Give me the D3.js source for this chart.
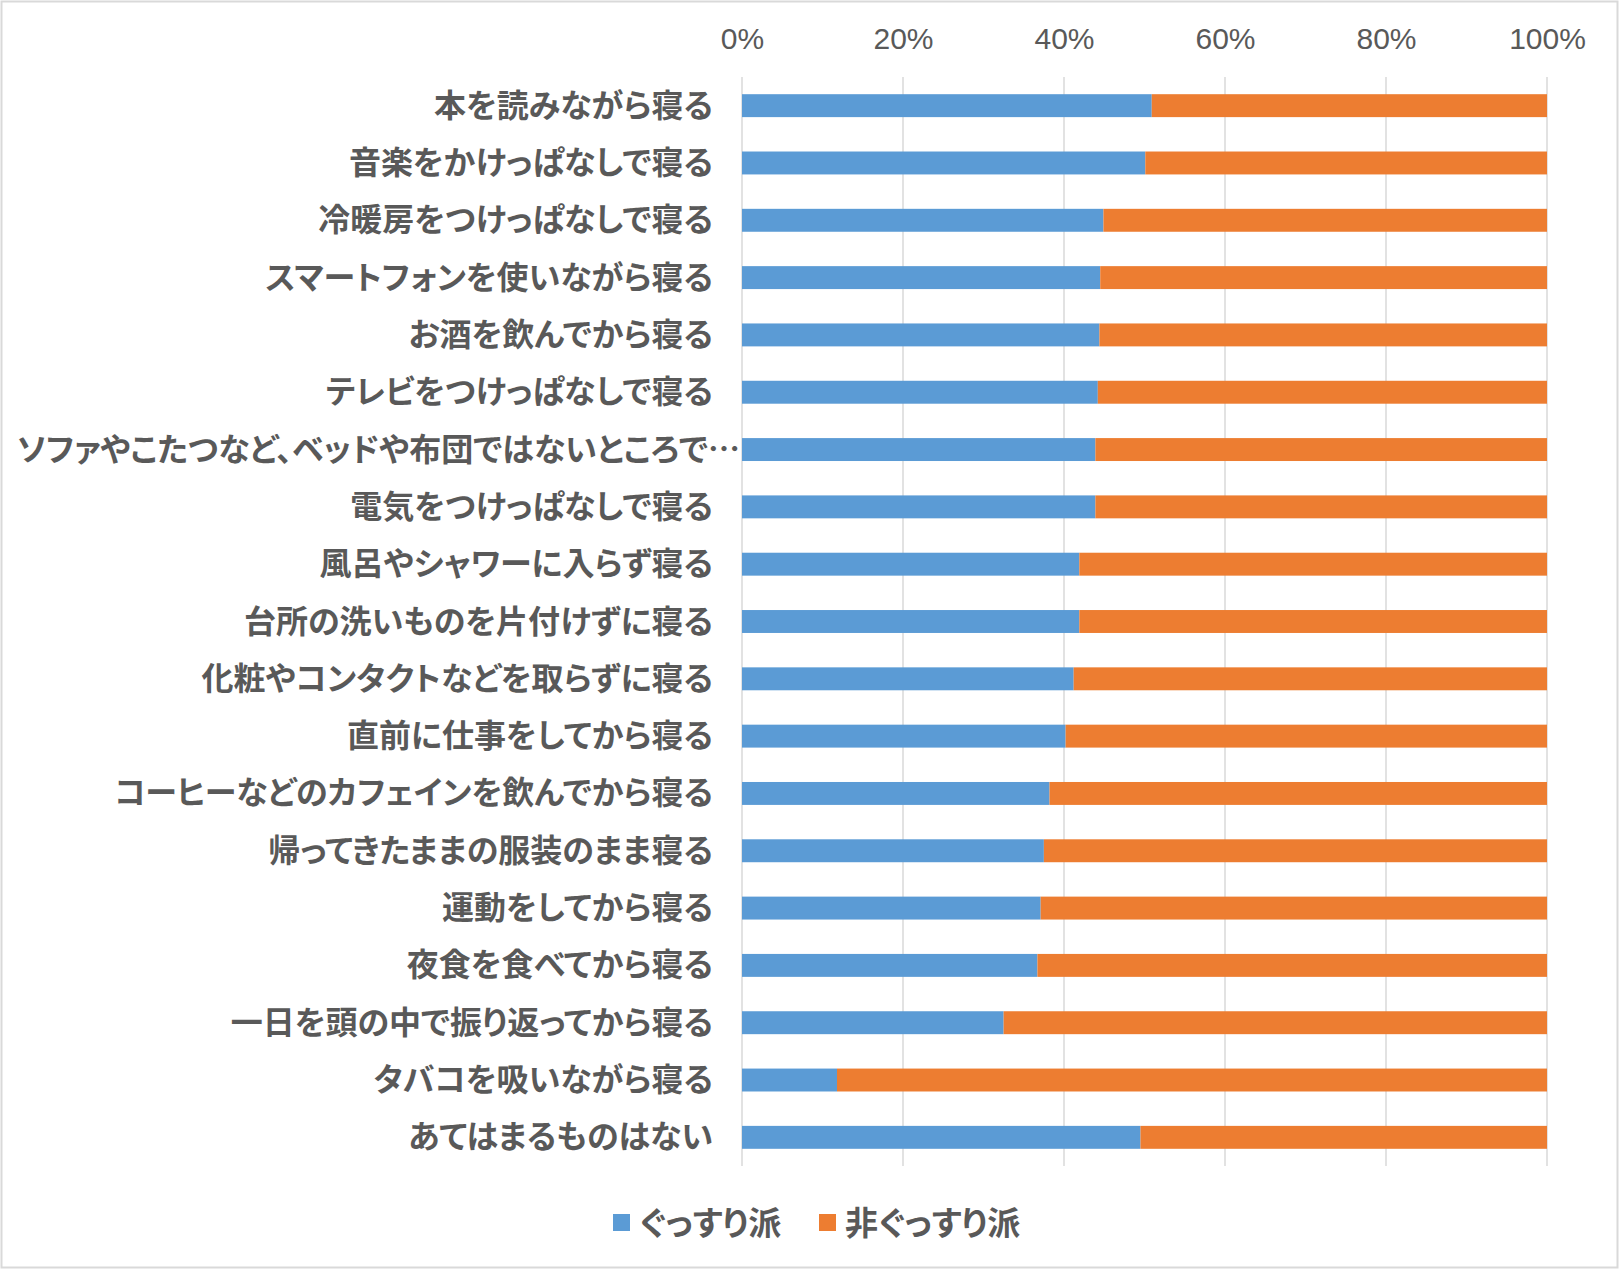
<!DOCTYPE html>
<html><head><meta charset="utf-8">
<script src="https://cdn.jsdelivr.net/npm/d3@7"></script>
<style>
html,body{margin:0;padding:0;background:#fff;}
svg{display:block;}
.cat{font-family:"Noto Sans CJK JP",sans-serif;font-weight:700;font-size:32px;fill:#595959;font-feature-settings:"palt";}
.tick text{font-family:"Liberation Sans",Arial,sans-serif;font-size:30px;fill:#595959;}
.leg{font-family:"Noto Sans CJK JP",sans-serif;font-weight:700;font-size:33px;fill:#595959;font-feature-settings:"palt";}
</style></head><body>
<script>
const categories = [
  "本を読みながら寝る",
  "音楽をかけっぱなしで寝る",
  "冷暖房をつけっぱなしで寝る",
  "スマートフォンを使いながら寝る",
  "お酒を飲んでから寝る",
  "テレビをつけっぱなしで寝る",
  "ソファやこたつなど、ベッドや布団ではないところで…",
  "電気をつけっぱなしで寝る",
  "風呂やシャワーに入らず寝る",
  "台所の洗いものを片付けずに寝る",
  "化粧やコンタクトなどを取らずに寝る",
  "直前に仕事をしてから寝る",
  "コーヒーなどのカフェインを飲んでから寝る",
  "帰ってきたままの服装のまま寝る",
  "運動をしてから寝る",
  "夜食を食べてから寝る",
  "一日を頭の中で振り返ってから寝る",
  "タバコを吸いながら寝る",
  "あてはまるものはない"
];
const gussuri    = [0.509,0.501,0.449,0.445,0.444,0.442,0.439,0.439,0.419,0.419,0.412,0.402,0.382,0.375,0.371,0.367,0.325,0.118,0.495];
const hiGussuri  = gussuri.map(v => 1 - v);
const seriesNames = ["ぐっすり派","非ぐっすり派"];
const colors = ["#5B9BD5","#ED7D31"];
const tickValues = [0,0.2,0.4,0.6,0.8,1.0];

const W = 1620, H = 1270;
const svg = d3.select("body").append("svg").attr("width", W).attr("height", H);

svg.append("rect").attr("x",1.5).attr("y",1.5).attr("width",W-4).attr("height",H-4)
  .attr("fill","#fff").attr("stroke","#D9D9D9").attr("stroke-width",2);

const x = d3.scaleLinear().domain([0,1]).range([742, 1547]);
const y = d3.scaleBand().domain(categories).range([77, 1166]).paddingInner(0.6).paddingOuter(0.3);

// gridlines
svg.append("g").selectAll("line").data(tickValues).join("line")
  .attr("x1", d => x(d)).attr("x2", d => x(d))
  .attr("y1", 77).attr("y2", 1166)
  .attr("stroke", "#D9D9D9").attr("stroke-width", 1.5);

// axis top
const ax = svg.append("g").attr("transform", "translate(0,49)")
  .call(d3.axisTop(x).tickValues(tickValues).tickFormat(d3.format(".0%")).tickSize(0).tickPadding(0));
ax.select(".domain").remove();
ax.selectAll(".tick text").attr("dy", 0);

// stacked bars
const data = categories.map((c,i) => ({cat:c, a:gussuri[i], b:hiGussuri[i]}));
const stack = d3.stack().keys(["a","b"])(data);
svg.append("g").selectAll("g").data(stack).join("g")
  .attr("fill", (d,i) => colors[i])
  .selectAll("rect").data(d => d).join("rect")
  .attr("x", d => x(d[0]))
  .attr("width", d => x(d[1]) - x(d[0]))
  .attr("y", d => y(d.data.cat))
  .attr("height", y.bandwidth());

// category labels
const labels = svg.append("g").selectAll("text").data(categories).join("text")
  .attr("class","cat")
  .attr("x", 713)
  .attr("y", d => y(d) + y.bandwidth()/2 - 3)
  .attr("text-anchor","end")
  .attr("dominant-baseline","central")
  .text(d => d);
// labels too long for the gutter are pushed right up to the axis (as in the original)
labels.each(function(){
  const sel = d3.select(this);
  let w = this.getComputedTextLength();
  if (w > 713 - 18) {
    sel.attr("x", 740);
    if (w > 740 - 16) sel.attr("textLength", 740 - 16).attr("lengthAdjust", "spacingAndGlyphs");
  }
});

// legend
const legX = [613, 819];
const lg = svg.append("g");
seriesNames.forEach((n,i) => {
  lg.append("rect").attr("x", legX[i]).attr("y", 1214).attr("width", 17).attr("height", 17).attr("fill", colors[i]);
  lg.append("text").attr("class","leg").attr("x", legX[i] + 26).attr("y", 1221)
    .attr("dominant-baseline","central").text(n);
});
</script>
</body></html>
